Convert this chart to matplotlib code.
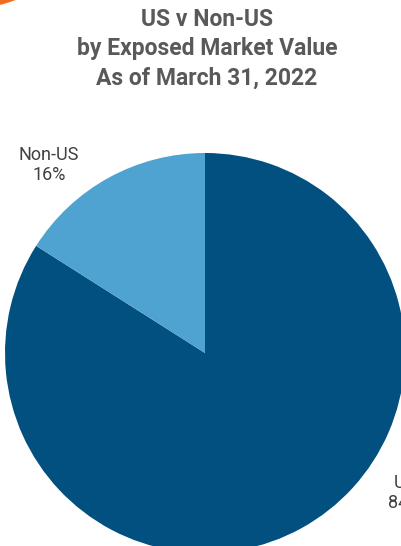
import matplotlib
matplotlib.use("Agg")
import matplotlib.pyplot as plt
from matplotlib.patches import Circle

categories = ["US", "Non-US"]
shares = [84, 16]
slice_labels = ["US\n84%", "Non-US\n16%"]
title_lines = ["US v Non-US", "by Exposed Market Value", "As of March 31, 2022"]

plt.rcParams['font.family'] = ['Roboto', 'DejaVu Sans']

W, H = 402, 546
fig = plt.figure(figsize=(W / 100, H / 100), dpi=100)
fig.patch.set_facecolor("white")

# pie axes: centre at (205, 353) px, radius 200 px
cx, cy, r = 205, 353, 200
ax = fig.add_axes([(cx - r) / W, (H - cy - r) / H, 2 * r / W, 2 * r / H])

colors = ["#02507F", "#4FA3D1"]
ax.pie(shares, colors=colors, startangle=90, counterclock=False, radius=1,
       wedgeprops=dict(linewidth=0))
ax.set_xlim(-1, 1)
ax.set_ylim(-1, 1)
ax.set_aspect("equal")
ax.axis("off")

ax.text(-0.78, 0.94, slice_labels[1], ha="center", va="center",
        fontsize=13, color="#404040", linespacing=1.1, clip_on=False)
ax.text(1.0, -0.70, slice_labels[0], ha="center", va="center",
        fontsize=13, color="#404040", linespacing=1.1, clip_on=False)

# title
for i, line in enumerate(title_lines):
    fig.text(207 / W, 1 - (19 + 29.5 * i) / H, line, ha="center", va="center",
             fontsize=16.5, fontweight="bold", color="#595959")

# orange accent in the corner
deco = fig.add_axes([0, 0, 1, 1])
deco.set_xlim(0, W)
deco.set_ylim(H, 0)
deco.axis("off")
deco.add_patch(Circle((-40, -150), 160, color="#F26B21", lw=0))

fig.savefig("out.png", dpi=100)
